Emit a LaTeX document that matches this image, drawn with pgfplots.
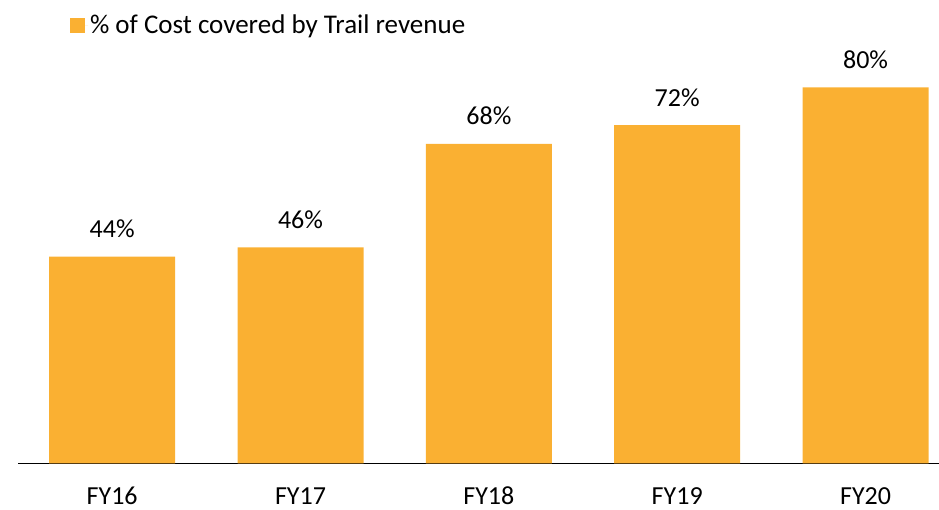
\documentclass[border=0pt]{standalone}
\usepackage{fontspec}
\setmainfont{Carlito}
\usepackage{pgfplots}
\pgfplotsset{compat=1.18}
\definecolor{barorange}{RGB}{250,176,50}
\begin{document}
\begin{tikzpicture}
\begin{axis}[
  scale only axis,
  width=921pt, height=463.5pt,
  ybar, bar width=126pt,
  xmin=-0.5, xmax=4.39,
  ymin=0, ymax=98.6,
  enlargelimits=false,
  axis x line*=bottom,
  x axis line style={-, line width=1.6pt, black},
  hide y axis,
  xtick=data,
  xticklabels={FY16,FY17,FY18,FY19,FY20},
  xtick style={draw=none},
  major tick length=0pt,
  xticklabel style={anchor=base, yshift=-41.5pt, inner sep=0pt, font=\fontsize{26}{31}\selectfont},
  /pgf/number format/assume math mode=true,
  nodes near coords={\pgfmathprintnumber{\pgfplotspointmeta}\%},
  nodes near coords style={anchor=base, yshift=19pt, inner sep=0pt, font=\fontsize{26}{31}\selectfont, text=black},
  clip=false,
  legend style={draw=none, fill=none, at={(rel axis cs:0.0565,0.972)}, anchor=north west,
     font=\fontsize{27}{32}\selectfont, inner sep=0pt, outer sep=0pt},
  legend image code/.code={\path (0pt,0pt) -- (18pt,0pt); \fill[barorange] (0pt,-7.5pt) rectangle (15pt,7.5pt);},
]
\addplot[fill=barorange, draw=none] coordinates {(0,44) (1,46) (2,68) (3,72) (4,80)};
\addlegendentry{\% of Cost covered by Trail revenue}
\end{axis}
\pgfresetboundingbox
\path (-18pt,-46.5pt) rectangle (921pt,463.5pt);
\end{tikzpicture}
\end{document}
